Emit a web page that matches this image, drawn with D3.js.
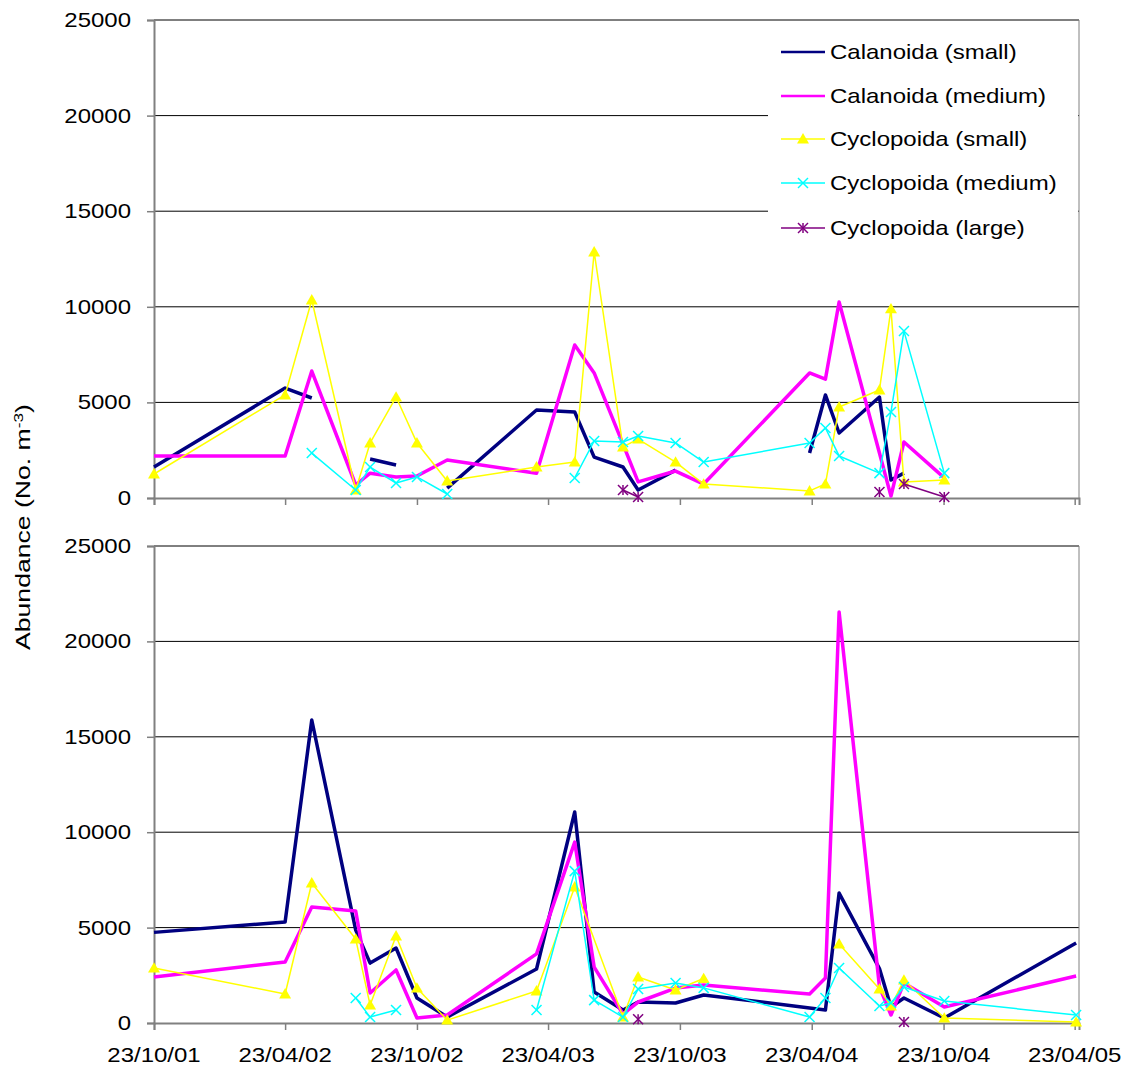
<!DOCTYPE html>
<html>
<head>
<meta charset="utf-8">
<script src="https://cdn.jsdelivr.net/npm/d3@7"></script>
<style>
  body { margin: 0; background: #fff; }
  svg { display: block; }
</style>
</head>
<body>
<svg id="chart"></svg>
<script>
// sampling dates shared by both panels
var dates = ["2001-10-23", "2002-04-23", "2002-05-30", "2002-07-30", "2002-08-19", "2002-09-24",
  "2002-10-23", "2002-12-04", "2003-04-07", "2003-05-30", "2003-06-26", "2003-08-05",
  "2003-08-26", "2003-10-17", "2003-11-25", "2004-04-20", "2004-05-12", "2004-05-31",
  "2004-07-26", "2004-08-11", "2004-08-29", "2004-10-24", "2005-04-25"];

var tickDates = ["2001-10-23", "2002-04-23", "2002-10-23", "2003-04-23",
  "2003-10-23", "2004-04-23", "2004-10-23", "2005-04-23"];
var yTicks = [0, 5000, 10000, 15000, 20000, 25000];

var seriesNames = ["Calanoida (small)", "Calanoida (medium)", "Cyclopoida (small)",
  "Cyclopoida (medium)", "Cyclopoida (large)"];

// null = blank cell (line breaks), undefined = not sampled (line passes on)
var topCalSmall = [1620, 5750, 5230, null, 2040, 1730, null, 520, 4600, 4500, 2140, 1620,
  420, 1460, null, 2350, 5390, 3400, 5280, 940, 1300, null, null];
var topCalMedium = [2200, 2200, 6640, 680, 1300, 1100, 1150, 1990, 1300, 8000, 6540, 2820,
  840, 1410, 730, 6540, 6220, 10250, 2350, 100, 2930, 1050, null];
var topCycSmall = [1255, 5390, 10355, 420, 2880, 5280, 2880, 890, 1620, 1880, 12870, 2670,
  3080, 1880, 730, 370, 730, 4760, 5650, 9890, 840, 940, null];
var topCycMedium = [null, null, 2350, 420, 1620, 785, 1100, 210, null, 1050, 2980, 2930,
  3240, 2880, 1880, 2880, 3660, 2200, 1300, 4500, 8730, 1300, null];
var topCycLarge = [null, null, null, null, null, null, null, null, null, null, null, 420,
  50, null, null, null, null, null, 310, null, 730, 50, null];

var botCalSmall = [4750, 5290, 15880, 4870, 3140, 3930, 1310, 310, 2830, 11060, 1620, 680,
  1100, 1050, 1470, 790, 680, 6810, 2850, 840, 1310, 260, 4190];
var botCalMedium = [2410, 3200, 6080, 5870, 1570, 2780, 260, 420, 3620, 9480, 2930, 470,
  1100, 1830, 1990, 1520, 2360, 21540, 1900, 420, 2100, 840, 2460];
var botCycSmall = [2880, 1520, 7340, 4400, 940, 4560, 1830, 150, 1680, 7130, undefined, 310,
  2410, 1730, 2330, null, null, 4140, 1780, 890, 2250, 260, 50];
var botCycMedium = [null, null, null, 1310, 310, 680, null, null, 680, 7960, 1200, 310,
  1780, 2100, 1840, 310, 1310, 2880, 890, 1050, 1890, 1150, 420];
var botCycLarge = [null, null, null, null, null, null, null, null, null, null, null, null,
  200, null, null, null, null, null, null, null, 50, null, null];

var styles = [
  {color: "#000080", width: 3.5, marker: null},
  {color: "#FF00FF", width: 3.5, marker: null},
  {color: "#FFFF00", width: 1.5, marker: "triangle"},
  {color: "#00FFFF", width: 1.5, marker: "cross"},
  {color: "#800080", width: 1.5, marker: "star"}
];

var width = 1130, height = 1072;
var left = 154, right = 1079;
var SX = 1.2; // glyphs in the source are drawn a little wide
var font = "'Liberation Sans', Arial, sans-serif";

var svg = d3.select("#chart")
  .attr("width", width)
  .attr("height", height);

var parse = d3.utcParse("%Y-%m-%d");
var x = d3.scaleUtc()
  .domain([parse("2001-10-23"), parse("2005-04-29")])
  .range([left, right]);

function label(g, px, py, txt, anchor) {
  return g.append("text")
    .attr("transform", "translate(" + px + "," + py + ") scale(" + SX + ",1)")
    .attr("text-anchor", anchor)
    .attr("dy", "0.35em")
    .attr("font-family", font)
    .attr("font-size", 20)
    .attr("fill", "#000")
    .text(txt);
}

function marker(g, kind, cx, cy, color) {
  if (kind == "triangle") {
    g.append("path")
      .attr("d", d3.symbol().type(d3.symbolTriangle).size(62)())
      .attr("transform", "translate(" + cx + "," + (cy + 1) + ")")
      .attr("fill", color);
  } else {
    var r = 5;
    var segs = [[-r, -r, r, r], [-r, r, r, -r]];
    if (kind == "star") segs.push([0, -r, 0, r]);
    segs.forEach(function (s) {
      g.append("line")
        .attr("x1", cx + s[0]).attr("y1", cy + s[1])
        .attr("x2", cx + s[2]).attr("y2", cy + s[3])
        .attr("stroke", color)
        .attr("stroke-width", 1.5);
    });
  }
}

function drawPanel(top, bottom, series, showDates) {
  var y = d3.scaleLinear().domain([0, 25000]).range([bottom, top]);
  var g = svg.append("g");

  // gridlines
  g.selectAll("line.grid")
    .data(yTicks.filter(function (v) { return v > 0; }))
    .enter().append("line")
    .attr("class", "grid")
    .attr("x1", left).attr("x2", right)
    .attr("y1", y).attr("y2", y)
    .attr("stroke", "#000")
    .attr("stroke-width", 1);

  // right border
  g.append("line")
    .attr("x1", right).attr("x2", right)
    .attr("y1", top).attr("y2", bottom)
    .attr("stroke", "#808080");

  var yAxis = g.append("g")
    .attr("transform", "translate(" + left + ",0)")
    .call(d3.axisLeft(y).tickValues(yTicks).tickSize(7).tickFormat(""));
  var xAxis = g.append("g")
    .attr("transform", "translate(0," + bottom + ")")
    .call(d3.axisBottom(x).tickValues(tickDates.map(parse)).tickSize(7).tickFormat(""));
  [yAxis, xAxis].forEach(function (a) {
    a.select(".domain").attr("stroke", "#808080").attr("stroke-width", 2);
    a.selectAll(".tick line").attr("stroke", "#808080").attr("stroke-width", 1.5);
  });

  yTicks.forEach(function (v) {
    label(g, 131, y(v), d3.format("d")(v), "end");
  });
  if (showDates) {
    tickDates.forEach(function (d) {
      label(g, x(parse(d)), 1055, d3.utcFormat("%d/%m/%y")(parse(d)), "middle");
    });
  }

  series.forEach(function (vals, i) {
    var st = styles[i];
    var pts = [];
    vals.forEach(function (v, j) {
      if (v !== undefined) pts.push({date: parse(dates[j]), v: v});
    });
    var line = d3.line()
      .defined(function (d) { return d.v !== null; })
      .x(function (d) { return x(d.date); })
      .y(function (d) { return y(d.v); });
    g.append("path")
      .datum(pts)
      .attr("d", line)
      .attr("fill", "none")
      .attr("stroke", st.color)
      .attr("stroke-width", st.width)
      .attr("stroke-linejoin", "round");
    if (st.marker) {
      pts.filter(function (d) { return d.v !== null; }).forEach(function (d) {
        marker(g, st.marker, x(d.date), y(d.v), st.color);
      });
    }
  });
  return g;
}

var topPanel = drawPanel(20, 498,
  [topCalSmall, topCalMedium, topCycSmall, topCycMedium, topCycLarge], false);
drawPanel(546, 1023,
  [botCalSmall, botCalMedium, botCycSmall, botCycMedium, botCycLarge], true);

// legend sits inside the top panel
var legend = svg.append("g");
legend.append("rect")
  .attr("x", 768).attr("y", 21)
  .attr("width", right - 768 - 1).attr("height", 229)
  .attr("fill", "#fff");
var legendY = [52, 96, 139, 183, 228];
seriesNames.forEach(function (name, i) {
  var st = styles[i];
  legend.append("line")
    .attr("x1", 781).attr("x2", 825)
    .attr("y1", legendY[i]).attr("y2", legendY[i])
    .attr("stroke", st.color)
    .attr("stroke-width", st.width > 2 ? 2.5 : 1.5);
  if (st.marker) marker(legend, st.marker, 803, legendY[i], st.color);
  label(legend, 830, legendY[i], name, "start");
});

// y axis title
var title = svg.append("text")
  .attr("transform", "translate(30,527) rotate(-90) scale(1.33,1.05)")
  .attr("text-anchor", "middle")
  .attr("font-family", font)
  .attr("font-size", 20);
title.append("tspan").text("Abundance (No. m");
title.append("tspan").attr("baseline-shift", "super").attr("font-size", 13).text("-3");
title.append("tspan").text(")");
</script>
</body>
</html>
